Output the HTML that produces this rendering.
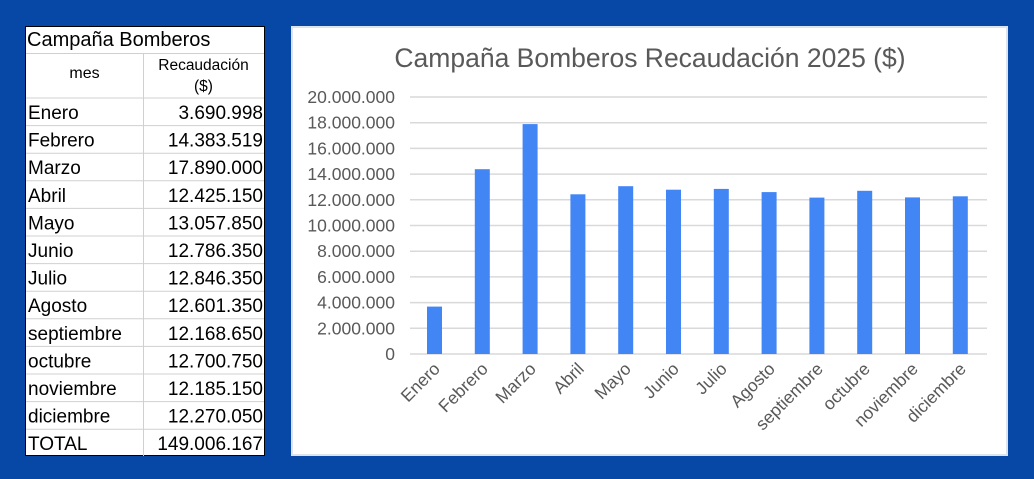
<!DOCTYPE html>
<html><head><meta charset="utf-8"><style>
body{margin:0;width:1034px;height:479px;background:#0747a6;position:relative;overflow:hidden;font-family:"Liberation Sans",sans-serif}
#t{position:absolute;left:25px;top:26px;width:240px;height:430px;background:#fff;border:1px solid #000;box-sizing:border-box}
#t div{position:absolute;box-sizing:border-box;font-size:20px;color:#000}
#c{position:absolute;left:291px;top:26px;width:717px;height:430px;background:#fff;border:2px solid #dde4ee;box-sizing:border-box}
</style></head><body>
<div id="t">
<div style="left:1px;top:0;height:26px;line-height:27px">Campaña Bomberos</div>
<div style="left:0;top:26px;width:238px;border-top:1px solid #d0d0d0"></div>
<div style="left:0;top:38px;width:117px;text-align:center;font-size:16px">mes</div>
<div style="left:117px;top:28px;width:121px;text-align:center;font-size:15.5px;line-height:21px">Recaudación<br>($)</div>
<div style="left:117px;top:26px;height:403px;border-left:1px solid #d0d0d0"></div>
<svg width="238" height="430" style="position:absolute;left:0;top:0">
<g stroke="#d0d0d0">
<line x1="0" x2="238" y1="71" y2="71"/><line x1="0" x2="238" y1="98.6" y2="98.6"/><line x1="0" x2="238" y1="126.2" y2="126.2"/><line x1="0" x2="238" y1="153.8" y2="153.8"/><line x1="0" x2="238" y1="181.4" y2="181.4"/><line x1="0" x2="238" y1="209" y2="209"/><line x1="0" x2="238" y1="236.6" y2="236.6"/><line x1="0" x2="238" y1="264.2" y2="264.2"/><line x1="0" x2="238" y1="291.8" y2="291.8"/><line x1="0" x2="238" y1="319.4" y2="319.4"/><line x1="0" x2="238" y1="347" y2="347"/><line x1="0" x2="238" y1="374.6" y2="374.6"/><line x1="0" x2="238" y1="402.2" y2="402.2"/>
</g>
<g font-size="19" font-family="Liberation Sans, sans-serif" fill="#000">
<text x="2" y="92">Enero</text><text x="237" y="92" text-anchor="end">3.690.998</text>
<text x="2" y="119.6">Febrero</text><text x="237" y="119.6" text-anchor="end">14.383.519</text>
<text x="2" y="147.2">Marzo</text><text x="237" y="147.2" text-anchor="end">17.890.000</text>
<text x="2" y="174.8">Abril</text><text x="237" y="174.8" text-anchor="end">12.425.150</text>
<text x="2" y="202.4">Mayo</text><text x="237" y="202.4" text-anchor="end">13.057.850</text>
<text x="2" y="230">Junio</text><text x="237" y="230" text-anchor="end">12.786.350</text>
<text x="2" y="257.6">Julio</text><text x="237" y="257.6" text-anchor="end">12.846.350</text>
<text x="2" y="285.2">Agosto</text><text x="237" y="285.2" text-anchor="end">12.601.350</text>
<text x="2" y="312.8">septiembre</text><text x="237" y="312.8" text-anchor="end">12.168.650</text>
<text x="2" y="340.4">octubre</text><text x="237" y="340.4" text-anchor="end">12.700.750</text>
<text x="2" y="368">noviembre</text><text x="237" y="368" text-anchor="end">12.185.150</text>
<text x="2" y="395.6">diciembre</text><text x="237" y="395.6" text-anchor="end">12.270.050</text>
<text x="2" y="423.2">TOTAL</text><text x="237" y="423.2" text-anchor="end">149.006.167</text>
</g></svg>
</div>
<div id="c"></div>
<svg width="1034" height="479" style="position:absolute;left:0;top:0" font-family="Liberation Sans, sans-serif">
<text x="650" y="67" text-anchor="middle" font-size="26.5" fill="#595959">Campaña Bomberos Recaudación 2025 ($)</text>
<g stroke="#d9d9d9" stroke-width="1.5">
<line x1="410" x2="987" y1="97" y2="97"/><line x1="410" x2="987" y1="122.7" y2="122.7"/><line x1="410" x2="987" y1="148.4" y2="148.4"/><line x1="410" x2="987" y1="174.1" y2="174.1"/><line x1="410" x2="987" y1="199.8" y2="199.8"/><line x1="410" x2="987" y1="225.5" y2="225.5"/><line x1="410" x2="987" y1="251.2" y2="251.2"/><line x1="410" x2="987" y1="276.9" y2="276.9"/><line x1="410" x2="987" y1="302.6" y2="302.6"/><line x1="410" x2="987" y1="328.3" y2="328.3"/><line x1="410" x2="987" y1="354" y2="354"/>
</g>
<g font-size="17.5" fill="#595959" text-anchor="end">
<text x="395" y="103">20.000.000</text><text x="395" y="128.7">18.000.000</text><text x="395" y="154.4">16.000.000</text><text x="395" y="180.1">14.000.000</text><text x="395" y="205.8">12.000.000</text><text x="395" y="231.5">10.000.000</text><text x="395" y="257.2">8.000.000</text><text x="395" y="282.9">6.000.000</text><text x="395" y="308.6">4.000.000</text><text x="395" y="334.3">2.000.000</text><text x="395" y="360">0</text>
</g>
<g fill="#4285f4">
<rect x="427" y="306.6" width="15" height="47.4"/>
<rect x="474.8" y="169.2" width="15" height="184.8"/>
<rect x="522.6" y="124.1" width="15" height="229.9"/>
<rect x="570.4" y="194.3" width="15" height="159.7"/>
<rect x="618.2" y="186.2" width="15" height="167.8"/>
<rect x="666" y="189.7" width="15" height="164.3"/>
<rect x="713.8" y="188.9" width="15" height="165.1"/>
<rect x="761.6" y="192.1" width="15" height="161.9"/>
<rect x="809.4" y="197.6" width="15" height="156.4"/>
<rect x="857.2" y="190.8" width="15" height="163.2"/>
<rect x="905" y="197.4" width="15" height="156.6"/>
<rect x="952.8" y="196.3" width="15" height="157.7"/>
</g>
<g font-size="17.5" fill="#595959" text-anchor="end">
<text transform="translate(441,370) rotate(-45)">Enero</text>
<text transform="translate(489,370) rotate(-45)">Febrero</text>
<text transform="translate(537,370) rotate(-45)">Marzo</text>
<text transform="translate(585,370) rotate(-45)">Abril</text>
<text transform="translate(632,370) rotate(-45)">Mayo</text>
<text transform="translate(680,370) rotate(-45)">Junio</text>
<text transform="translate(728,370) rotate(-45)">Julio</text>
<text transform="translate(776,370) rotate(-45)">Agosto</text>
<text transform="translate(824,370) rotate(-45)">septiembre</text>
<text transform="translate(871,370) rotate(-45)">octubre</text>
<text transform="translate(919,370) rotate(-45)">noviembre</text>
<text transform="translate(967,370) rotate(-45)">diciembre</text>
</g>
</svg>
</body></html>
